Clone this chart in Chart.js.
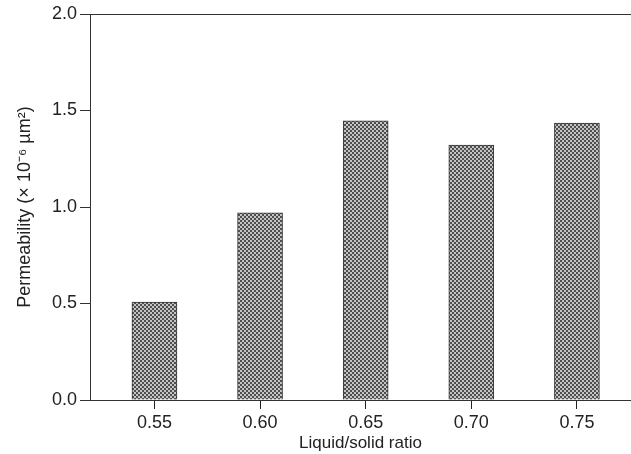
<!DOCTYPE html>
<html>
<head>
<meta charset="utf-8">
<script src="https://cdn.jsdelivr.net/npm/chart.js@4/dist/chart.umd.min.js"></script>
<style>
  html, body { margin: 0; padding: 0; background: #fff; }
  #wrap { width: 631px; height: 454px; }
</style>
</head>
<body>
<div id="wrap"><canvas id="myChart"></canvas></div>
<script>
var ratios = [0.55, 0.60, 0.65, 0.70, 0.75];
var permeability = [0.508, 0.970, 1.446, 1.321, 1.435];
var yTicks = [0.0, 0.5, 1.0, 1.5, 2.0];

// checkered fill like the printed hatch
var pc = document.createElement('canvas');
pc.width = 4; pc.height = 4;
var pctx = pc.getContext('2d');
pctx.fillStyle = '#c4c4c4';
pctx.fillRect(0, 0, 4, 4);
pctx.fillStyle = '#4e4e4e';
pctx.fillRect(0, 0, 2, 2);
pctx.fillRect(2, 2, 2, 2);
var ctx = document.getElementById('myChart');
var pattern = ctx.getContext('2d').createPattern(pc, 'repeat');

var points = ratios.map(function (r, i) { return { x: r, y: permeability[i] }; });

var tickFont = { family: 'Liberation Sans, Arial, sans-serif', size: 18 };
var titleFont = { family: 'Liberation Sans, Arial, sans-serif', size: 17 };

new Chart(ctx, {
  type: 'bar',
  data: {
    datasets: [{
      label: 'Permeability',
      data: points,
      backgroundColor: pattern,
      borderColor: '#333',
      borderWidth: 1,
      barThickness: 45
    }]
  },
  options: {
    responsive: true,
    maintainAspectRatio: false,
    animation: false,
    layout: { padding: { top: 14, right: 0, left: 0, bottom: 0 } },
    plugins: { legend: { display: false }, tooltip: { enabled: false } },
    scales: {
      x: {
        type: 'linear',
        offset: false,
        min: 0.5195,
        max: 0.7756,
        afterBuildTicks: function (axis) {
          axis.ticks = ratios.map(function (v) { return { value: v }; });
        },
        afterFit: function (axis) { axis.height = 54; },
        ticks: {
          color: '#222',
          font: tickFont,
          padding: 3,
          maxRotation: 0,
          callback: function (v) { return Number(v).toFixed(2); }
        },
        grid: { display: true, offset: false, drawOnChartArea: false, tickLength: 9, color: '#222', tickColor: '#222' },
        border: { display: true, color: '#333', width: 1 },
        title: { display: true, text: 'Liquid/solid ratio', color: '#222', font: titleFont, padding: { top: 0, bottom: 0 } }
      },
      x2: {
        type: 'linear',
        position: 'top',
        offset: false,
        min: 0.5195,
        max: 0.7756,
        afterFit: function (axis) { axis.height = 0; },
        ticks: { display: false },
        grid: { display: false },
        border: { display: true, color: '#333', width: 1 }
      },
      y: {
        min: 0,
        max: 2,
        afterBuildTicks: function (axis) {
          axis.ticks = yTicks.map(function (v) { return { value: v }; });
        },
        afterFit: function (axis) { axis.width = 90; },
        ticks: {
          color: '#222',
          font: tickFont,
          padding: 3,
          callback: function (v) { return Number(v).toFixed(1); }
        },
        grid: { display: true, drawOnChartArea: false, tickLength: 10, color: '#333', tickColor: '#333' },
        border: { display: true, color: '#333', width: 1 },
        title: { display: true, text: 'Permeability (× 10⁻⁶ µm²)', color: '#222', font: { family: 'Liberation Sans, Arial, sans-serif', size: 18 }, padding: { top: 14, bottom: 0 } }
      }
    }
  }
});
</script>
</body>
</html>
